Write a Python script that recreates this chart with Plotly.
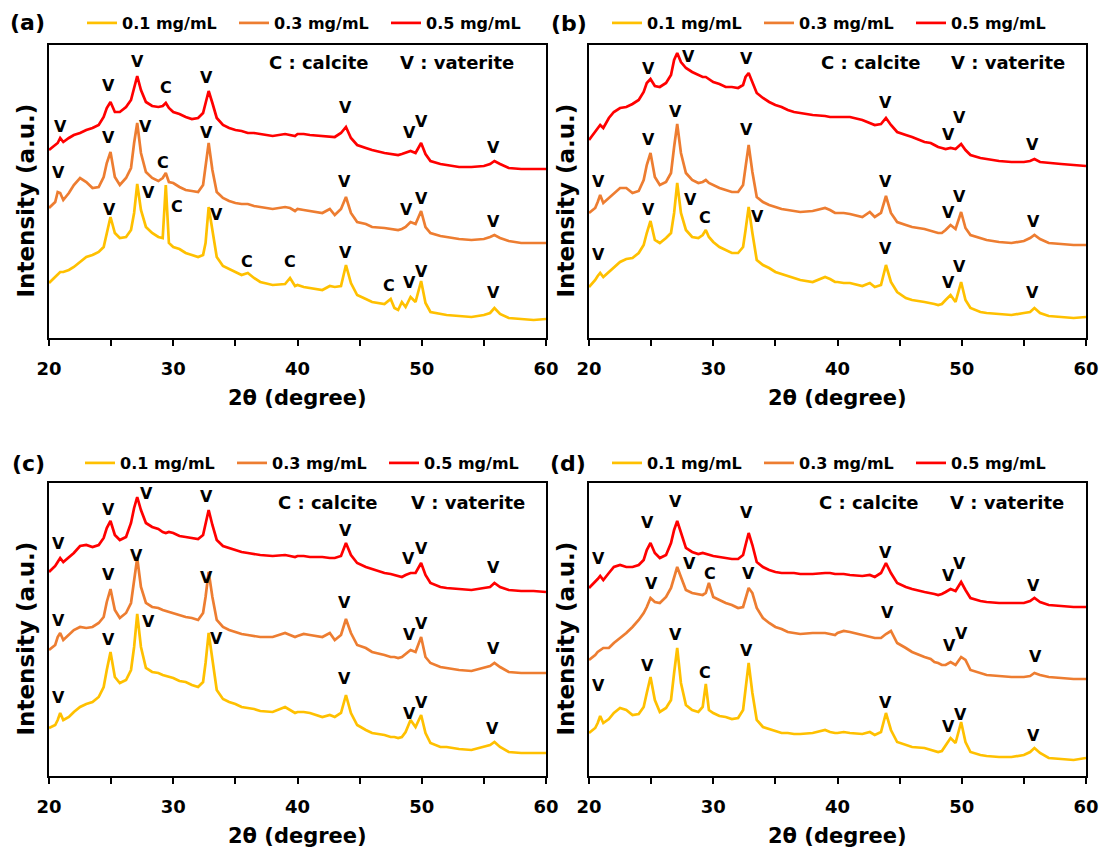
import plotly.graph_objects as go

# ---------------- data ----------------
TWO_THETA = [20.0, 20.5, 20.7, 20.9, 21.15, 21.6, 22.0, 22.5, 23.0, 23.5,
             24.0, 24.4, 24.65, 24.95, 25.3, 25.7, 26.2, 26.6, 26.85, 27.1,
             27.4, 27.8, 28.3, 28.8, 29.15, 29.4, 29.65, 30.0, 30.5, 31.0,
             31.5, 32.0, 32.4, 32.6, 32.85, 33.15, 33.5, 34.0, 34.5, 35.0,
             35.5, 36.0, 36.5, 37.0, 38.0, 39.0, 39.4, 39.8, 40.0, 40.5,
             41.0, 42.0, 42.6, 43.0, 43.5, 43.9, 44.3, 44.8, 45.5, 46.0,
             47.0, 47.5, 47.8, 48.1, 48.4, 48.7, 49.1, 49.5, 49.95, 50.3,
             50.7, 51.5, 52.0, 53.0, 54.0, 55.0, 55.5, 55.85, 56.3, 57.0,
             58.0, 59.0, 60.0]

SERIES_NAMES = ["0.1 mg/mL", "0.3 mg/mL", "0.5 mg/mL"]

A_01 = [55, 61, 64, 66, 66, 68, 71, 76, 81, 83,
        86, 91, 105, 121, 105, 100, 101, 108, 125, 154,
        128, 111, 105, 101, 100, 153, 95, 91, 89, 85,
        83, 81, 83, 95, 131, 108, 81, 72, 69, 66,
        63, 65, 60, 56, 53, 54, 60, 52, 53, 51,
        50, 48, 52, 51, 52, 73, 55, 43, 39, 36,
        34, 39, 30, 28, 36, 31, 41, 36, 57, 35,
        26, 24, 23, 22, 21, 23, 25, 30, 24, 20,
        19, 18, 19]
A_03 = [130, 136, 146, 145, 138, 145, 153, 160, 156, 150,
        151, 161, 175, 186, 161, 153, 160, 170, 195, 215,
        185, 166, 160, 157, 160, 165, 156, 155, 151, 148,
        147, 146, 153, 170, 195, 168, 146, 140, 137, 135,
        134, 134, 132, 131, 129, 131, 130, 127, 129, 128,
        127, 125, 129, 123, 129, 141, 125, 116, 114, 111,
        110, 109, 108, 108, 109, 111, 116, 114, 127, 111,
        105, 102, 101, 99, 98, 99, 101, 103, 100, 97,
        95, 95, 95]
A_05 = [188, 193, 195, 200, 196, 200, 203, 205, 208, 210,
        213, 221, 230, 236, 226, 226, 231, 238, 250, 262,
        248, 236, 232, 231, 232, 235, 230, 226, 224, 221,
        219, 220, 225, 235, 247, 235, 220, 213, 210, 208,
        207, 205, 205, 204, 202, 204, 203, 202, 204, 204,
        203, 202, 201, 201, 205, 211, 200, 193, 190, 188,
        185, 184, 184, 183, 184, 185, 187, 185, 195, 184,
        177, 174, 173, 171, 171, 172, 174, 177, 174, 170,
        169, 169, 169]

B_01 = [51, 58, 62, 65, 61, 66, 71, 76, 79, 80,
        85, 93, 105, 117, 98, 95, 100, 105, 125, 155,
        125, 108, 101, 100, 103, 108, 101, 96, 91, 88,
        85, 85, 91, 108, 131, 105, 78, 73, 70, 66,
        64, 62, 60, 58, 56, 61, 59, 56, 56, 55,
        55, 52, 55, 51, 53, 73, 56, 46, 40, 38,
        36, 35, 34, 33, 34, 38, 43, 36, 56, 38,
        30, 26, 25, 24, 23, 25, 26, 30, 25, 22,
        21, 20, 21]
B_03 = [125, 130, 136, 143, 135, 140, 145, 150, 150, 145,
        147, 158, 173, 185, 161, 153, 156, 165, 191, 214,
        185, 165, 158, 155, 156, 158, 155, 153, 150, 148,
        146, 146, 153, 171, 193, 166, 141, 136, 133, 131,
        129, 128, 127, 126, 127, 130, 128, 125, 125, 125,
        124, 121, 126, 121, 125, 142, 125, 116, 113, 111,
        109, 107, 106, 105, 105, 108, 113, 109, 126, 110,
        103, 100, 98, 96, 95, 97, 100, 103, 99, 95,
        94, 93, 93]
B_05 = [198, 206, 210, 213, 210, 220, 226, 230, 231, 234,
        238, 246, 255, 259, 252, 251, 255, 263, 278, 285,
        276, 270, 266, 263, 261, 261, 259, 256, 254, 251,
        251, 250, 253, 261, 265, 256, 245, 240, 236, 233,
        231, 228, 226, 225, 223, 222, 221, 221, 221, 221,
        221, 218, 215, 213, 214, 220, 213, 206, 203, 201,
        196, 195, 193, 191, 190, 189, 190, 189, 194, 188,
        183, 180, 179, 177, 176, 176, 177, 179, 176, 175,
        174, 173, 172]

C_01 = [48, 51, 56, 63, 56, 59, 64, 69, 72, 74,
        79, 89, 106, 124, 99, 93, 96, 106, 129, 162,
        129, 108, 104, 103, 101, 100, 99, 98, 95, 94,
        91, 89, 94, 113, 143, 116, 86, 77, 74, 72,
        69, 68, 67, 65, 64, 69, 66, 63, 64, 64,
        63, 59, 61, 59, 63, 81, 63, 51, 46, 43,
        41, 39, 39, 38, 39, 44, 56, 49, 61, 43,
        33, 29, 29, 27, 26, 29, 31, 34, 29, 24,
        23, 23, 23]
C_03 = [126, 131, 139, 143, 136, 141, 146, 149, 148, 149,
        153, 159, 174, 187, 166, 158, 163, 173, 194, 218,
        189, 173, 169, 168, 166, 165, 164, 163, 161, 159,
        158, 156, 163, 179, 204, 179, 156, 149, 146, 144,
        142, 141, 140, 139, 139, 143, 141, 139, 140, 142,
        141, 139, 143, 136, 141, 157, 143, 131, 128, 124,
        121, 119, 119, 118, 119, 122, 126, 124, 139, 119,
        113, 109, 108, 106, 105, 108, 110, 113, 109, 104,
        103, 103, 103]
C_05 = [204, 210, 214, 218, 214, 219, 223, 230, 231, 229,
        231, 238, 248, 255, 241, 236, 239, 253, 268, 279,
        266, 253, 249, 247, 244, 243, 244, 243, 240, 239,
        238, 237, 241, 251, 266, 251, 236, 230, 228, 226,
        224, 223, 222, 221, 220, 221, 220, 219, 220, 220,
        219, 219, 218, 218, 220, 233, 221, 213, 209, 207,
        203, 202, 201, 200, 199, 201, 203, 203, 213, 201,
        193, 189, 188, 187, 186, 188, 189, 193, 189, 186,
        185, 185, 184]

D_01 = [43, 48, 53, 60, 53, 57, 63, 68, 66, 61,
        62, 69, 83, 99, 76, 64, 68, 76, 103, 128,
        93, 71, 66, 64, 69, 92, 66, 63, 60, 59,
        57, 58, 66, 89, 113, 83, 56, 49, 47, 45,
        43, 43, 42, 42, 43, 46, 44, 43, 43, 44,
        43, 42, 44, 41, 44, 63, 46, 34, 31, 29,
        28, 26, 25, 24, 25, 31, 38, 33, 54, 34,
        24, 21, 20, 19, 19, 21, 24, 28, 23, 18,
        17, 16, 18]
D_03 = [116, 121, 124, 126, 128, 128, 133, 138, 143, 149,
        156, 163, 169, 178, 174, 173, 179, 188, 198, 209,
        199, 186, 183, 182, 181, 183, 193, 179, 176, 173,
        171, 168, 169, 178, 188, 183, 168, 158, 153, 149,
        147, 144, 143, 142, 143, 143, 142, 141, 143, 145,
        144, 141, 139, 138, 138, 142, 145, 133, 128, 124,
        119, 117, 114, 113, 111, 111, 114, 111, 119, 116,
        106, 103, 101, 100, 99, 99, 100, 103, 101, 99,
        98, 97, 97]
D_05 = [188, 194, 197, 200, 196, 203, 209, 211, 209, 209,
        211, 216, 226, 233, 223, 218, 221, 233, 246, 255,
        243, 228, 224, 222, 223, 222, 221, 220, 219, 218,
        217, 217, 221, 231, 243, 231, 214, 209, 206, 204,
        203, 203, 203, 202, 202, 203, 203, 202, 202, 202,
        201, 200, 201, 199, 203, 213, 203, 193, 189, 187,
        184, 183, 182, 181, 182, 184, 187, 185, 194, 186,
        178, 175, 174, 173, 173, 173, 175, 178, 174, 171,
        170, 169, 169]

# peak labels: (2theta, intensity, phase letter)
LABELS_A = [(20.9, 211, "V"), (24.8, 252, "V"), (27.1, 276, "V"), (29.4, 250, "C"), (32.7, 260, "V"),
            (43.9, 230, "V"), (49.0, 205, "V"), (50.0, 216, "V"), (55.8, 190, "V"),
            (20.8, 165, "V"), (24.8, 200, "V"), (27.8, 211, "V"), (29.2, 175, "C"), (32.7, 205, "V"),
            (43.8, 156, "V"), (48.8, 128, "V"), (50.0, 139, "V"), (55.8, 116, "V"),
            (24.9, 128, "V"), (28.0, 145, "V"), (30.3, 131, "C"), (33.5, 123, "V"), (35.9, 76, "C"),
            (39.4, 76, "C"), (43.9, 85, "V"), (47.4, 52, "C"), (49.0, 55, "V"), (50.0, 66, "V"),
            (55.8, 45, "V")]
LABELS_B = [(24.8, 269, "V"), (28.0, 281, "V"), (32.7, 279, "V"), (43.9, 235, "V"), (48.9, 203, "V"),
            (49.8, 220, "V"), (55.7, 193, "V"),
            (20.75, 156, "V"), (24.8, 198, "V"), (27.0, 226, "V"), (32.7, 208, "V"), (43.9, 156, "V"),
            (48.9, 125, "V"), (49.8, 141, "V"), (55.8, 116, "V"),
            (20.75, 83, "V"), (24.8, 128, "V"), (28.2, 138, "V"), (29.3, 120, "C"), (33.6, 121, "V"),
            (43.9, 89, "V"), (48.9, 55, "V"), (49.8, 71, "V"), (55.7, 45, "V")]
LABELS_C = [(20.75, 233, "V"), (24.8, 267, "V"), (27.85, 283, "V"), (32.7, 280, "V"), (43.9, 246, "V"),
            (48.9, 218, "V"), (50.0, 228, "V"), (55.8, 209, "V"),
            (20.8, 156, "V"), (24.8, 202, "V"), (27.05, 221, "V"), (32.7, 199, "V"), (43.8, 174, "V"),
            (49.0, 142, "V"), (50.0, 153, "V"), (55.8, 128, "V"),
            (20.8, 79, "V"), (24.8, 137, "V"), (28.0, 155, "V"), (33.5, 138, "V"), (43.8, 98, "V"),
            (49.0, 63, "V"), (50.0, 74, "V"), (55.7, 48, "V")]
LABELS_D = [(20.8, 218, "V"), (24.7, 254, "V"), (27.0, 275, "V"), (32.7, 264, "V"), (43.9, 224, "V"),
            (48.9, 201, "V"), (49.8, 213, "V"), (55.8, 191, "V"),
            (25.0, 193, "V"), (28.1, 213, "V"), (29.7, 203, "C"), (32.8, 203, "V"), (44.0, 164, "V"),
            (49.0, 131, "V"), (50.0, 143, "V"), (55.9, 120, "V"),
            (20.75, 91, "V"), (24.7, 111, "V"), (27.0, 142, "V"), (29.3, 104, "C"), (32.7, 126, "V"),
            (43.9, 74, "V"), (48.9, 50, "V"), (49.9, 62, "V"), (55.8, 41, "V")]

PANEL_TAGS = ["(a)", "(b)", "(c)", "(d)"]
X_TICKS = [20, 25, 30, 35, 40, 45, 50, 55, 60]
X_TICK_TEXT = ["20", "", "30", "", "40", "", "50", "", "60"]

# ---------------- layout / style ----------------
W, H = 1101, 855
COLORS = ["#FFC000", "#ED7D31", "#FF0000"]
FONT = "DejaVu Sans"


def px(x):
    return x / W


def py(y):
    return 1 - y / H


# plot boxes in pixels: left, right, top, bottom
BOXES = [(49, 546, 45, 338), (589, 1086, 45, 338), (49, 546, 483, 776), (589, 1086, 483, 776)]
LEGEND_POS = [(82, 23), (607, 23), (80, 463), (607, 463)]
TAG_POS = [(27, 22), (569, 23), (28, 463), (568, 463)]
KEY_POS = [(41.69, 52.80, 275), (42.70, 53.76, 275), (42.49, 53.72, 274), (42.50, 53.68, 274)]

panels = [
    (A_01, A_03, A_05, LABELS_A),
    (B_01, B_03, B_05, LABELS_B),
    (C_01, C_03, C_05, LABELS_C),
    (D_01, D_03, D_05, LABELS_D),
]

fig = go.Figure()
annotations = []
layout = dict(width=W, height=H, margin=dict(l=0, r=0, t=0, b=0, pad=0, autoexpand=False),
              paper_bgcolor="white", plot_bgcolor="white", showlegend=True,
              font=dict(family=FONT, color="black"))

for i, (s1, s3, s5, labels) in enumerate(panels):
    n = i + 1
    sfx = "" if n == 1 else str(n)
    xa, ya = "x" + sfx, "y" + sfx
    leg = "legend" + sfx
    for name, vals, col in zip(SERIES_NAMES, [s1, s3, s5], COLORS):
        fig.add_trace(go.Scatter(x=TWO_THETA, y=vals, mode="lines", name=name,
                                 line=dict(color=col, width=2.7),
                                 xaxis=xa, yaxis=ya, legend=leg))
    l, r, t, b = BOXES[i]
    layout["xaxis" + sfx] = dict(
        domain=[px(l), px(r)], anchor=ya, range=[20, 60], automargin=False,
        showline=True, linecolor="black", linewidth=1.5, mirror=True,
        ticks="outside", ticklen=6, tickwidth=1.5, tickcolor="black",
        tickvals=X_TICKS, ticktext=X_TICK_TEXT, ticklabelstandoff=8,
        tickfont=dict(family=FONT, size=18, color="black", weight="bold"),
        showgrid=False, zeroline=False)
    layout["yaxis" + sfx] = dict(
        domain=[py(b), py(t)], anchor=xa, range=[0, 293], automargin=False,
        showline=True, linecolor="black", linewidth=1.5, mirror=True,
        ticks="", showticklabels=False, showgrid=False, zeroline=False)
    lx, ly = LEGEND_POS[i]
    layout[leg] = dict(orientation="h", x=px(lx), y=py(ly), xanchor="left", yanchor="middle",
                       entrywidth=107, entrywidthmode="pixels", bgcolor="rgba(0,0,0,0)",
                       borderwidth=0, traceorder="normal",
                       font=dict(family=FONT, size=16, color="black", weight="bold"))
    # peak letters
    for (xv, yv, txt) in labels:
        annotations.append(dict(x=xv, y=yv, xref=xa, yref=ya, text=txt, showarrow=False,
                                font=dict(family=FONT, size=16, color="black", weight="bold")))
    kx1, kx2, ky = KEY_POS[i]
    annotations.append(dict(x=kx1, y=ky, xref=xa, yref=ya, text="C : calcite", showarrow=False,
                            font=dict(family=FONT, size=18, color="black", weight="bold")))
    annotations.append(dict(x=kx2, y=ky, xref=xa, yref=ya, text="V : vaterite", showarrow=False,
                            font=dict(family=FONT, size=18, color="black", weight="bold")))
    # panel tag
    tx, ty = TAG_POS[i]
    annotations.append(dict(x=px(tx), y=py(ty), xref="paper", yref="paper", text=PANEL_TAGS[i],
                            showarrow=False, xanchor="center", yanchor="middle",
                            font=dict(family=FONT, size=22, color="black", weight="bold")))
    # axis titles
    annotations.append(dict(x=px((l + r) / 2), y=py(b + 60), xref="paper", yref="paper",
                            text="2θ (degree)", showarrow=False, xanchor="center", yanchor="middle",
                            font=dict(family=FONT, size=21, color="black", weight="bold")))
    annotations.append(dict(x=px(l - 24), y=py((t + b) / 2 + 9), xref="paper", yref="paper",
                            text="Intensity (a.u.)", showarrow=False, textangle=-90,
                            xanchor="center", yanchor="middle",
                            font=dict(family=FONT, size=23, color="black", weight="bold")))

layout["annotations"] = annotations
fig.update_layout(**layout)
fig.write_html("out.html", config={"displayModeBar": False},
               post_script="document.body.style.margin='0px';")
